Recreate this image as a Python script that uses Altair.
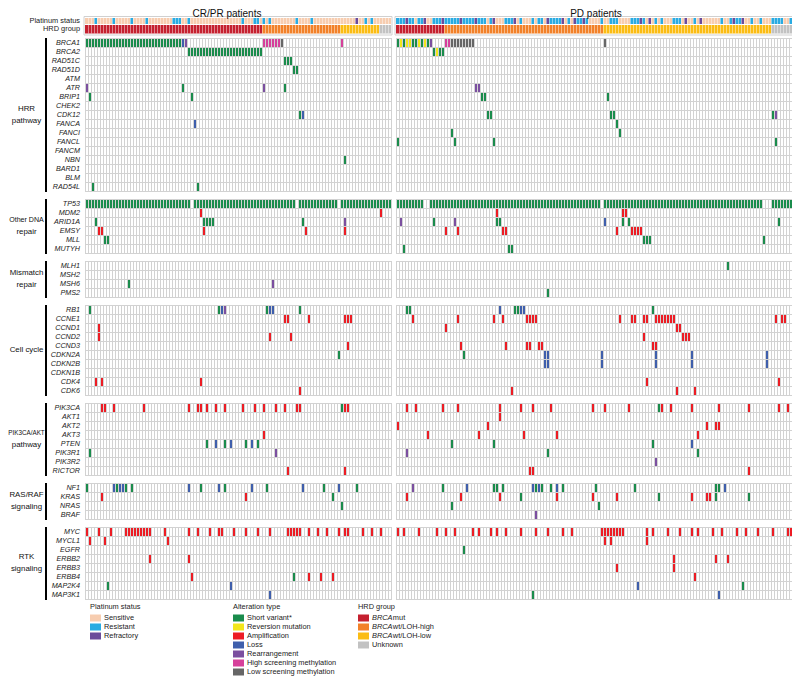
import altair as alt
import pandas as pd

# ---------------------------------------------------------------- data
PANELS = ["CR/PR patients", "PD patients"]
N_PATIENTS = [102, 134]

PATHWAY_NAMES = [["HRR", "pathway"], ["Other DNA", "repair"], ["Mismatch", "repair"], ["Cell cycle"],
                 ["PIK3CA/AKT", "pathway"], ["RAS/RAF", "signaling"], ["RTK", "signaling"]]
PATHWAY_GENES = [
    ["BRCA1", "BRCA2", "RAD51C", "RAD51D", "ATM", "ATR", "BRIP1", "CHEK2", "CDK12",
     "FANCA", "FANCI", "FANCL", "FANCM", "NBN", "BARD1", "BLM", "RAD54L"],
    ["TP53", "MDM2", "ARID1A", "EMSY", "MLL", "MUTYH"],
    ["MLH1", "MSH2", "MSH6", "PMS2"],
    ["RB1", "CCNE1", "CCND1", "CCND2", "CCND3", "CDKN2A", "CDKN2B", "CDKN1B", "CDK4", "CDK6"],
    ["PIK3CA", "AKT1", "AKT2", "AKT3", "PTEN", "PIK3R1", "PIK3R2", "RICTOR"],
    ["NF1", "KRAS", "NRAS", "BRAF"],
    ["MYC", "MYCL1", "EGFR", "ERBB2", "ERBB3", "ERBB4", "MAP2K4", "MAP3K1"],
]

PLATINUM_LEVELS = ["Sensitive", "Resistant", "Refractory"]
PLATINUM_COLORS = ["#f7cdb0", "#29abe2", "#6a4b9b"]
ALT_LEVELS = ["Short variant*", "Reversion mutation", "Amplification", "Loss",
              "Rearrangement", "High screening methylation", "Low screening methylation"]
ALT_COLORS = ["#1a8c4c", "#f2e61b", "#ed1c24", "#3f5fac", "#7b4fa0", "#d6409b", "#666666"]
HRD_LEVELS = ["BRCAmut", "BRCAwt/LOH-high", "BRCAwt/LOH-low", "Unknown"]
HRD_COLORS = ["#c5202f", "#f28129", "#fbbc13", "#c2c2c2"]

CR_RESISTANT = [3, 9, 15, 20, 29, 30, 31, 34, 52, 56, 57, 59, 61, 70, 75, 93, 95]
CR_REFRACTORY = [90]
PD_RESISTANT = [0, 1, 2, 4, 5, 7, 8, 12, 13, 14, 16, 17, 18, 19, 20, 22, 23, 24, 25, 27, 28,
                29, 31, 36, 37, 38, 41, 45, 47, 48, 51, 52, 53, 54, 57, 60, 61, 63, 68, 71,
                72, 73, 78, 79, 80, 82, 86, 88, 92, 93, 94, 99, 108, 111, 113, 114, 118,
                121, 125, 126, 127, 128, 131]
PD_REFRACTORY = [3, 9, 15, 21, 26, 32, 39, 50, 55, 59, 62, 81, 84, 96, 101, 112, 115]

# last patient column of each HRD group (BRCAmut, LOH-high, LOH-low, Unknown)
CR_HRD_LAST = [58, 84, 97, 101]
PD_HRD_LAST = [15, 68, 124, 133]

SV, RV, AMP, LOSS, RE, HM, LM = ALT_LEVELS


def span(a, b):
    return list(range(a, b + 1))


CR_ALT = {
    "BRCA1": [(SV, span(0, 31)), (LOSS, [32]), (RE, [33]), (HM, span(59, 64) + [85]), (LM, [65])],
    "BRCA2": [(SV, span(34, 58))],
    "RAD51C": [(SV, [66, 67, 68])],
    "RAD51D": [(SV, [69, 70])],
    "ATR": [(RE, [0, 59]), (SV, [32, 66])],
    "BRIP1": [(SV, [1, 35])],
    "CDK12": [(SV, [71]), (LOSS, [72])],
    "FANCA": [(LOSS, [36])],
    "NBN": [(SV, [86])],
    "RAD54L": [(SV, [2, 37])],
    "TP53": [(SV, span(0, 34) + span(36, 69) + span(71, 83) + span(85, 101))],
    "MDM2": [(AMP, [38, 98])],
    "ARID1A": [(SV, [3, 39, 40, 41, 42, 72]), (RE, [86])],
    "EMSY": [(AMP, [4, 5, 39, 73, 86])],
    "MLL": [(SV, [6, 7])],
    "MSH6": [(SV, [14]), (RE, [62])],
    "RB1": [(SV, [1, 44, 60, 71]), (LOSS, [45, 61, 62]), (RE, [46])],
    "CCNE1": [(AMP, [66, 67, 74, 86, 87, 88])],
    "CCND1": [(AMP, [4])],
    "CCND2": [(AMP, [4, 61, 68])],
    "CCND3": [(AMP, [87])],
    "CDKN2A": [(SV, [84])],
    "CDK4": [(AMP, [3, 5, 38])],
    "CDK6": [(AMP, [71])],
    "PIK3CA": [(AMP, [5, 6, 9, 19, 34, 37, 38, 40, 43, 46, 52, 56, 59, 63, 66, 70, 71, 86, 87]),
               (SV, [85])],
    "AKT3": [(AMP, [59])],
    "PTEN": [(SV, [40, 46, 53, 57]), (LOSS, [43, 48, 55])],
    "PIK3R1": [(SV, [1]), (RE, [63])],
    "RICTOR": [(AMP, [67, 86])],
    "NF1": [(SV, [0, 10, 13, 15, 38, 46, 60, 79, 90]), (LOSS, [9, 11, 12, 34, 44, 55, 72, 84])],
    "KRAS": [(AMP, [5, 53]), (SV, [82])],
    "NRAS": [(SV, [85])],
    "MYC": [(AMP, [0, 4, 8] + span(13, 21) + [26, 34, 37, 41, 44, 45, 49, 53, 57, 61]
             + span(67, 71) + [74, 77, 80, 84, 86, 87, 92, 95, 98])],
    "MYCL1": [(AMP, [1, 6, 27])],
    "ERBB2": [(AMP, [21, 34])],
    "ERBB4": [(AMP, [35, 74, 78, 82]), (SV, [69])],
    "MAP2K4": [(SV, [7]), (LOSS, [48])],
    "MAP3K1": [(LOSS, [61])],
}

PD_ALT = {
    "BRCA1": [(SV, [0, 2, 5, 6, 8, 10]), (RV, [1, 3, 4, 7, 9]), (RE, [11]), (HM, [16, 17]),
              (LM, span(18, 25) + [69])],
    "BRCA2": [(SV, [12, 14, 15]), (RV, [13])],
    "ATR": [(RE, [26, 27])],
    "BRIP1": [(SV, [28, 29, 70])],
    "CDK12": [(SV, [30, 31, 71, 72, 125]), (RE, [126])],
    "FANCA": [(SV, [73])],
    "FANCI": [(SV, [18, 74])],
    "FANCL": [(SV, [0, 19, 32, 126])],
    "TP53": [(SV, span(0, 8) + span(11, 67) + span(69, 121) + span(125, 133))],
    "MDM2": [(AMP, [33, 75, 76])],
    "ARID1A": [(RE, [1, 19]), (SV, [12, 33, 34, 75, 77, 127, 133]), (LOSS, [69])],
    "EMSY": [(AMP, [16, 20, 35, 36, 73, 78, 79, 80, 81])],
    "MLL": [(SV, [82, 83, 84, 122])],
    "MUTYH": [(SV, [2, 37, 38])],
    "MLH1": [(SV, [110])],
    "PMS2": [(SV, [50])],
    "RB1": [(SV, [3, 4, 39, 40, 85]), (LOSS, [34, 41, 42])],
    "CCNE1": [(AMP, [5, 20, 32, 35, 43, 44, 45, 46, 74, 78, 79, 82, 83] + span(86, 92)
               + [126, 128, 129])],
    "CCND1": [(AMP, [16, 93, 94])],
    "CCND2": [(AMP, [82, 95, 96, 97])],
    "CCND3": [(AMP, [21, 36, 43, 44, 47, 48, 85, 86])],
    "CDKN2A": [(SV, [22]), (LOSS, [49, 50, 68, 86, 98, 123])],
    "CDKN2B": [(LOSS, [49, 50, 68, 86, 98, 123])],
    "CDK4": [(AMP, [83, 127])],
    "CDK6": [(AMP, [38, 93, 99])],
    "PIK3CA": [(AMP, [3, 6, 15, 20, 34, 41, 45, 51, 65, 69, 77, 88, 91, 98, 107, 117, 127, 130]),
               (SV, [87])],
    "AKT1": [(AMP, [34])],
    "AKT2": [(AMP, [0, 30, 103, 106, 107])],
    "AKT3": [(AMP, [10, 27, 42, 53, 100])],
    "PTEN": [(SV, [18, 32, 85]), (LOSS, [98])],
    "PIK3R1": [(RE, [3]), (SV, [50, 100])],
    "PIK3R2": [(RE, [86])],
    "RICTOR": [(AMP, [44, 45, 117])],
    "NF1": [(RE, [5]), (SV, [15, 32, 33, 35, 46, 48, 51, 55, 66, 79, 106, 107]),
            (LOSS, [23, 45, 47, 53, 109])],
    "KRAS": [(AMP, [3, 21, 34, 53, 65, 73, 98, 103, 104]), (SV, [41, 87, 106, 117, 132])],
    "NRAS": [(SV, [18, 67])],
    "BRAF": [(RE, [46])],
    "MYC": [(AMP, [0, 2, 7, 13, 16, 19, 25, 27, 31, 33, 36, 41, 46, 50, 55, 58] + span(68, 75)
             + [83, 85, 90, 94, 98, 100, 105, 108, 113, 116, 120, 125, 130, 131])],
    "MYCL1": [(AMP, [69, 71, 83])],
    "EGFR": [(SV, [22, 132])],
    "ERBB2": [(AMP, [92, 106, 110])],
    "ERBB3": [(AMP, [73, 92])],
    "ERBB4": [(AMP, [99])],
    "MAP2K4": [(LOSS, [80]), (SV, [115])],
    "MAP3K1": [(SV, [45]), (LOSS, [107])],
}

# ---------------------------------------------------------------- layout
W, H = 784, 674
CW, CH, GAP = 3, 9, 8
PANEL_X0 = [77, 388]
GRID_TOP = 30
LABEL_X = 72
FONT = "Arial, Liberation Sans, sans-serif"
SMALL = 7.4

block_top, gene_top = [], {}
t = GRID_TOP
for b, genes in enumerate(PATHWAY_GENES):
    block_top.append(t)
    for k, g in enumerate(genes):
        gene_top[g] = t + k * CH
    t += len(genes) * CH + GAP

xs = alt.Scale(domain=[0, W], range=[0, W], nice=False, zero=False)
ys = alt.Scale(domain=[0, H], range=[0, H], nice=False, zero=False)
color_scale = alt.Scale(domain=PLATINUM_LEVELS + ALT_LEVELS + HRD_LEVELS,
                        range=PLATINUM_COLORS + ALT_COLORS + HRD_COLORS)


def XY(extra=True):
    enc = dict(x=alt.X("x:Q", scale=xs, axis=None), y=alt.Y("y:Q", scale=ys, axis=None))
    if extra:
        enc["x2"] = "x2:Q"
        enc["y2"] = "y2:Q"
    return enc


# grid lines
rules = []
for p in range(2):
    x0, n = PANEL_X0[p], N_PATIENTS[p]
    for b, genes in enumerate(PATHWAY_GENES):
        top = block_top[b]
        bot = top + len(genes) * CH
        for i in range(n + 1):
            xx = x0 + i * CW + 0.5
            rules.append(dict(x=xx, x2=xx, y=top, y2=bot + 1))
        for k in range(len(genes) + 1):
            yy = top + k * CH + 0.5
            rules.append(dict(x=x0, x2=x0 + n * CW + 1, y=yy, y2=yy))
grid = alt.Chart(pd.DataFrame(rules)).mark_rule(color="#d2d2d2", strokeWidth=1).encode(**XY())

# alteration cells
cells = []
for p, alts in enumerate([CR_ALT, PD_ALT]):
    x0 = PANEL_X0[p]
    for gene, entries in alts.items():
        top = gene_top[gene]
        for key, cols in entries:
            for c in cols:
                cells.append(dict(x=x0 + c * CW + 1, x2=x0 + c * CW + 3, y=top + 1, y2=top + 9,
                                  key=key))
cell_layer = alt.Chart(pd.DataFrame(cells)).mark_rect(strokeWidth=0).encode(
    color=alt.Color("key:N", scale=color_scale, legend=None), **XY())

# header annotation rows
head, seps, frames = [], [], []
plat_res = [CR_RESISTANT, PD_RESISTANT]
plat_ref = [CR_REFRACTORY, PD_REFRACTORY]
hrd_last = [CR_HRD_LAST, PD_HRD_LAST]
PLAT_Y, HRD_Y = (10, 16), (17, 25.5)
for p in range(2):
    x0, n = PANEL_X0[p], N_PATIENTS[p]
    for c in range(n):
        key = "Sensitive"
        if c in plat_res[p]:
            key = "Resistant"
        if c in plat_ref[p]:
            key = "Refractory"
        head.append(dict(x=x0 + c * CW, x2=x0 + c * CW + 3, y=PLAT_Y[0], y2=PLAT_Y[1], key=key))
        g = next(i for i, last in enumerate(hrd_last[p]) if c <= last)
        head.append(dict(x=x0 + c * CW, x2=x0 + c * CW + 3, y=HRD_Y[0], y2=HRD_Y[1],
                         key=HRD_LEVELS[g]))
        if c > 0:
            seps.append(dict(x=x0 + c * CW + 0.5, x2=x0 + c * CW + 0.5, y=PLAT_Y[0], y2=HRD_Y[1]))
    frames.append(dict(x=x0 - 1, x2=x0 + n * CW + 1, y=PLAT_Y[0] - 1.5, y2=HRD_Y[1] + 1.5))
head_layer = alt.Chart(pd.DataFrame(head)).mark_rect(strokeWidth=0).encode(
    color=alt.Color("key:N", scale=color_scale, legend=None), **XY())
sep_layer = alt.Chart(pd.DataFrame(seps)).mark_rule(color="white", strokeWidth=1, opacity=0.45).encode(**XY())
frame_layer = alt.Chart(pd.DataFrame(frames)).mark_rect(
    fillOpacity=0, stroke="#d0d0d0", strokeWidth=1).encode(**XY())

# black pathway bars
bars = [dict(x=38, x2=38, y=block_top[b], y2=block_top[b] + len(g) * CH + 1)
        for b, g in enumerate(PATHWAY_GENES)]
bar_layer = alt.Chart(pd.DataFrame(bars)).mark_rule(color="black", strokeWidth=2).encode(**XY())

# text
gene_lab = pd.DataFrame([dict(x=LABEL_X, y=gene_top[g] + 4.5, label=g) for g in gene_top])
gene_text = alt.Chart(gene_lab).mark_text(
    align="right", baseline="middle", fontStyle="italic", fontSize=7.2, font=FONT, color="#222"
).encode(text="label:N", **XY(False))

head_lab = pd.DataFrame([dict(x=LABEL_X, y=sum(PLAT_Y) / 2, label="Platinum status"),
                         dict(x=LABEL_X, y=sum(HRD_Y) / 2, label="HRD group")])
head_text = alt.Chart(head_lab).mark_text(
    align="right", baseline="middle", fontSize=SMALL, font=FONT, color="#222"
).encode(text="label:N", **XY(False))

LINE_FS = {"Other DNA": 7.1, "PIK3CA/AKT": 6.3}
path_rows = []
for b, g in enumerate(PATHWAY_GENES):
    lines = PATHWAY_NAMES[b]
    yc = block_top[b] + len(g) * CH / 2
    for j, line in enumerate(lines):
        path_rows.append(dict(x=18.5, y=yc + (j - (len(lines) - 1) / 2) * 12, label=line,
                              fs=LINE_FS.get(line, 7.9)))
path_text = alt.Chart(pd.DataFrame(path_rows)).mark_text(
    align="center", baseline="middle", font=FONT, color="#111"
).encode(text="label:N", size=alt.Size("fs:Q", scale=None), **XY(False))

title_lab = pd.DataFrame([dict(x=219, y=9.3, label=PANELS[0]), dict(x=588, y=9.3, label=PANELS[1])])
title_text = alt.Chart(title_lab).mark_text(
    align="center", baseline="alphabetic", fontSize=10, font=FONT, color="#111"
).encode(text="label:N", **XY(False))

# legend
LEG_X = [82, 225, 350]
LEG_TITLES = ["Platinum status", "Alteration type", "HRD group"]
LEG_LEVELS = [PLATINUM_LEVELS, ALT_LEVELS, HRD_LEVELS]
BRCA_W = 2.78 * SMALL + 0.3
sw, lt_norm, lt_ital = [], [], []
for gx, title, levels in zip(LEG_X, LEG_TITLES, LEG_LEVELS):
    lt_norm.append(dict(x=gx, y=599, label=title))
    for k, lev in enumerate(levels):
        yc = 610 + k * 9
        sw.append(dict(x=gx, x2=gx + 11, y=yc - 3.5, y2=yc + 3.5, key=lev))
        if lev.startswith("BRCA"):
            lt_ital.append(dict(x=gx + 14, y=yc, label="BRCA"))
            lt_norm.append(dict(x=gx + 14 + BRCA_W, y=yc, label=lev[4:]))
        else:
            lt_norm.append(dict(x=gx + 14, y=yc, label=lev))
sw_layer = alt.Chart(pd.DataFrame(sw)).mark_rect(strokeWidth=0).encode(
    color=alt.Color("key:N", scale=color_scale, legend=None), **XY())
leg_text = alt.Chart(pd.DataFrame(lt_norm)).mark_text(
    align="left", baseline="middle", fontSize=SMALL, font=FONT, color="#222"
).encode(text="label:N", **XY(False))
leg_ital = alt.Chart(pd.DataFrame(lt_ital)).mark_text(
    align="left", baseline="middle", fontSize=SMALL, fontStyle="italic", font=FONT, color="#222"
).encode(text="label:N", **XY(False))

chart = alt.layer(
    grid, cell_layer, head_layer, sep_layer, frame_layer, bar_layer,
    gene_text, head_text, path_text, title_text, sw_layer, leg_text, leg_ital
).properties(
    width=W, height=H, padding=0, autosize=alt.AutoSizeParams(type="none")
).configure_view(stroke=None)

chart.save("out.html", embed_options={"renderer": "svg", "actions": False})
